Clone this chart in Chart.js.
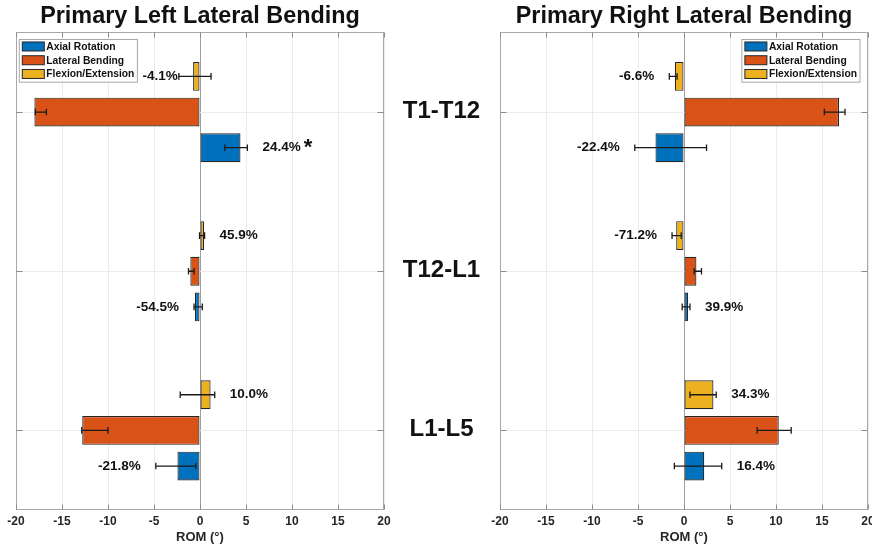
<!DOCTYPE html>
<html>
<head>
<meta charset="utf-8">
<script src="https://cdn.jsdelivr.net/npm/chart.js@4.4.1/dist/chart.umd.min.js"></script>
<style>
    body { margin: 0; width: 872px; height: 548px; overflow: hidden; background: white; position: relative; }
    #leftBox { position: absolute; left: 0; top: 0; width: 500px; height: 548px; }
    #rightBox { position: absolute; left: 484px; top: 0; width: 400px; height: 548px; }
</style>
</head>
<body>
<div id="leftBox"><canvas id="leftChart" width="500" height="548"></canvas></div>
<div id="rightBox"><canvas id="rightChart" width="400" height="548"></canvas></div>
<script>
const regions = ['T1-T12', 'T12-L1', 'L1-L5'];
const motions = ['Axial Rotation', 'Lateral Bending', 'Flexion/Extension'];
const xTicks = [-20, 20, 5];

// primary left lateral bending (ROM, deg)
const left_axial = [4.4, -0.55, -2.45];
const left_lateral = [-18.0, -1.05, -12.8];
const left_flexion = [-0.75, 0.45, 1.15];
const left_axial_lo = [2.7, -0.65, -4.8];
const left_axial_hi = [5.15, 0.25, -0.45];
const left_lateral_lo = [-17.9, -1.25, -12.85];
const left_lateral_hi = [-16.7, -0.65, -10.0];
const left_flexion_lo = [-2.3, -0.05, -2.15];
const left_flexion_hi = [1.2, 0.5, 1.6];
const left_axial_pct = [24.4, -54.5, -21.8];
const left_flexion_pct = [-4.1, 45.9, 10.0];
const left_axial_sig = [true, false, false];

// primary right lateral bending (ROM, deg)
const right_axial = [-3.1, 0.45, 2.2];
const right_lateral = [16.85, 1.35, 10.3];
const right_flexion = [-1.0, -0.85, 3.2];
const right_axial_lo = [-5.35, -0.2, -1.05];
const right_axial_hi = [2.45, 0.65, 4.1];
const right_lateral_lo = [15.25, 1.1, 7.95];
const right_lateral_hi = [17.5, 1.9, 11.65];
const right_flexion_lo = [-1.6, -1.3, 0.65];
const right_flexion_hi = [-0.75, -0.3, 3.5];
const right_axial_pct = [-22.4, 39.9, 16.4];
const right_flexion_pct = [-6.6, -71.2, 34.3];
const right_axial_sig = [false, false, false];

const colors = { axial: '#0072BD', lateral: '#D95319', flexion: '#EDB120' };
const FONT = "'Liberation Sans', Arial, Helvetica, sans-serif";
Chart.defaults.font.family = FONT;

// error bars, axes box, legend, percent labels, region names
const annotate = {
    id: 'annotate',
    afterDatasetsDraw(chart, args, opts) {
        const ctx = chart.ctx;
        const area = chart.chartArea;
        const xs = chart.scales.x;
        const ys = chart.scales.y;
        const datasets = chart.data.datasets;
        ctx.save();

        // error bars
        ctx.strokeStyle = '#1a1a1a';
        ctx.lineWidth = 1.3;
        datasets.forEach((ds, i) => {
            chart.getDatasetMeta(i).data.forEach((bar, j) => {
                const x1 = xs.getPixelForValue(ds.errLo[j]);
                const x2 = xs.getPixelForValue(ds.errHi[j]);
                ctx.beginPath();
                ctx.moveTo(x1, bar.y); ctx.lineTo(x2, bar.y);
                ctx.moveTo(x1, bar.y - 3.3); ctx.lineTo(x1, bar.y + 3.3);
                ctx.moveTo(x2, bar.y - 3.3); ctx.lineTo(x2, bar.y + 3.3);
                ctx.stroke();
            });
        });

        // axes box with inward ticks
        const L = Math.round(area.left) + 0.5, R = Math.round(area.right) - 0.5;
        const T = Math.round(area.top) + 0.5, B = Math.round(area.bottom) - 0.5;
        ctx.strokeStyle = '#a8a8a8';
        ctx.lineWidth = 1;
        ctx.strokeRect(L, T, R - L, B - T);
        ctx.strokeStyle = '#8c8c8c';
        ctx.beginPath();
        xs.ticks.forEach(t => {
            const px = Math.round(xs.getPixelForValue(t.value)) + 0.5;
            ctx.moveTo(px, B); ctx.lineTo(px, B - 5);
            ctx.moveTo(px, T); ctx.lineTo(px, T + 5);
        });
        regions.forEach((r, i) => {
            const py = Math.round(ys.getPixelForValue(i)) + 0.5;
            ctx.moveTo(L, py); ctx.lineTo(L + 6, py);
            ctx.moveTo(R, py); ctx.lineTo(R - 6, py);
        });
        ctx.stroke();

        // legend box
        ctx.font = 'bold 10.3px ' + FONT;
        const items = datasets.slice().reverse();
        let textW = 0;
        items.forEach(ds => { textW = Math.max(textW, ctx.measureText(ds.label).width); });
        const lw = 27 + textW + 3, lh = 42.7;
        const lx = opts.legendCorner === 'left' ? area.left + 3.3 : area.right - 8 - lw;
        const ly = area.top + 7;
        ctx.fillStyle = 'white';
        ctx.fillRect(lx, ly, lw, lh);
        ctx.strokeStyle = '#a8a8a8';
        ctx.strokeRect(lx, ly, lw, lh);
        ctx.textBaseline = 'middle';
        ctx.textAlign = 'left';
        items.forEach((ds, k) => {
            const cy = ly + 7 + k * 13.75;
            ctx.fillStyle = ds.backgroundColor;
            ctx.fillRect(lx + 3, cy - 4.5, 22, 9);
            ctx.strokeStyle = '#262626';
            ctx.strokeRect(lx + 3, cy - 4.5, 22, 9);
            ctx.fillStyle = '#111';
            ctx.fillText(ds.label, lx + 27, cy + 0.5);
        });

        // percent change labels
        const pctFont = 'bold 13.5px ' + FONT;
        ctx.font = pctFont;
        datasets.forEach((ds, i) => {
            if (!ds.pct) return;
            chart.getDatasetMeta(i).data.forEach((bar, j) => {
                const p = ds.pct[j];
                const txt = p.toFixed(1) + '%';
                const w = ctx.measureText(txt).width;
                let x0;
                if (p >= 0) {
                    x0 = xs.getPixelForValue(Math.max(ds.data[j], ds.errHi[j], 0)) + 15;
                } else {
                    x0 = xs.getPixelForValue(Math.min(ds.data[j], ds.errLo[j], 0)) - 15 - w;
                }
                const overlap = x0 < lx + lw && x0 + w > lx && bar.y > ly && bar.y < ly + lh + 8;
                if (overlap) x0 = p >= 0 ? lx - 5 - w : lx + lw + 5;
                ctx.fillStyle = '#111';
                ctx.textAlign = 'left';
                ctx.textBaseline = 'middle';
                ctx.fillText(txt, x0, bar.y);
                if (ds.sig && ds.sig[j]) {
                    ctx.font = 'bold 22px ' + FONT;
                    ctx.textBaseline = 'alphabetic';
                    ctx.fillText('*', x0 + w + 3, bar.y + 6);
                    ctx.font = pctFont;
                }
            });
        });

        // spinal region names between the panels
        if (opts.regionLabels) {
            ctx.font = 'bold 24px ' + FONT;
            ctx.fillStyle = '#111';
            ctx.textAlign = 'center';
            ctx.textBaseline = 'middle';
            regions.forEach((r, i) => {
                ctx.fillText(r, area.right + 57.5, ys.getPixelForValue(i) - 1);
            });
        }
        ctx.restore();
    }
};

function makeChart(id, title, d, padRight, legendCorner, regionLabels) {
    const ctx = document.getElementById(id).getContext('2d');
    return new Chart(ctx, {
        type: 'bar',
        data: {
            labels: regions,
            datasets: [
                {
                    label: motions[2],
                    data: d.flexion,
                    errLo: d.flexionLo, errHi: d.flexionHi,
                    pct: d.flexionPct,
                    backgroundColor: colors.flexion
                },
                {
                    label: motions[1],
                    data: d.lateral,
                    errLo: d.lateralLo, errHi: d.lateralHi,
                    backgroundColor: colors.lateral
                },
                {
                    label: motions[0],
                    data: d.axial,
                    errLo: d.axialLo, errHi: d.axialHi,
                    pct: d.axialPct, sig: d.axialSig,
                    backgroundColor: colors.axial
                }
            ].map(ds => Object.assign(ds, {
                borderColor: '#262626',
                borderWidth: 1.2,
                borderSkipped: false,
                categoryPercentage: 0.672,
                barPercentage: 0.81
            }))
        },
        options: {
            indexAxis: 'y',
            responsive: false,
            animation: false,
            events: [],
            layout: {
                padding: { left: 16, right: padRight, top: 0, bottom: 0 }
            },
            plugins: {
                legend: { display: false },
                tooltip: { enabled: false },
                title: {
                    display: true,
                    text: title,
                    color: '#111',
                    font: { size: 23.4, weight: 'bold' },
                    lineHeight: 1.18,
                    padding: { top: 3, bottom: 1.4 }
                },
                annotate: { legendCorner: legendCorner, regionLabels: regionLabels }
            },
            scales: {
                x: {
                    min: xTicks[0],
                    max: xTicks[1],
                    afterFit: scale => { scale.height = 38; },
                    ticks: {
                        stepSize: xTicks[2],
                        color: '#262626',
                        font: { size: 12, weight: 'bold' },
                        padding: 4.5,
                        maxRotation: 0,
                        autoSkip: false
                    },
                    grid: {
                        drawTicks: false,
                        color: c => c.tick && c.tick.value === 0 ? '#a0a0a0' : '#ebebeb'
                    },
                    border: { display: false },
                    title: {
                        display: true,
                        text: 'ROM (°)',
                        color: '#262626',
                        font: { size: 13, weight: 'bold' },
                        padding: { top: 1, bottom: 2.5 }
                    }
                },
                y: {
                    afterFit: scale => { scale.width = 0; },
                    ticks: { display: false },
                    grid: { offset: false, drawTicks: false, color: '#ebebeb' },
                    border: { display: false }
                }
            }
        },
        plugins: [annotate]
    });
}

makeChart('leftChart', 'Primary Left Lateral Bending', {
    axial: left_axial, axialLo: left_axial_lo, axialHi: left_axial_hi,
    axialPct: left_axial_pct, axialSig: left_axial_sig,
    lateral: left_lateral, lateralLo: left_lateral_lo, lateralHi: left_lateral_hi,
    flexion: left_flexion, flexionLo: left_flexion_lo, flexionHi: left_flexion_hi,
    flexionPct: left_flexion_pct
}, 116, 'left', true);

makeChart('rightChart', 'Primary Right Lateral Bending', {
    axial: right_axial, axialLo: right_axial_lo, axialHi: right_axial_hi,
    axialPct: right_axial_pct, axialSig: right_axial_sig,
    lateral: right_lateral, lateralLo: right_lateral_lo, lateralHi: right_lateral_hi,
    flexion: right_flexion, flexionLo: right_flexion_lo, flexionHi: right_flexion_hi,
    flexionPct: right_flexion_pct
}, 16, 'right', false);
</script>
</body>
</html>
